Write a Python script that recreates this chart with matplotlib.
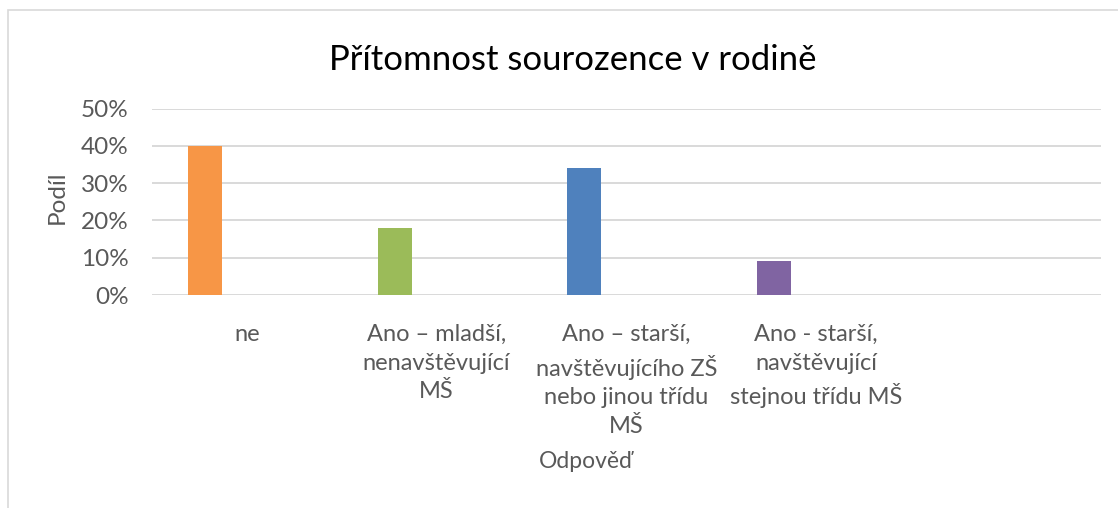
import matplotlib
matplotlib.use("Agg")
import matplotlib.pyplot as plt
from matplotlib.patches import Rectangle

categories = ["ne",
              "Ano – mladší,\nnenavštěvující\nMŠ",
              "Ano – starší,\nnavštěvujícího ZŠ\nnebo jinou třídu\nMŠ",
              "Ano - starší,\nnavštěvující\nstejnou třídu MŠ",
              ""]
values = [0.40, 0.18, 0.34, 0.09, 0.0]
colors = ["#F79646", "#9BBB59", "#4F81BD", "#8064A2", "#4BACC6"]
yticks = [0.0, 0.1, 0.2, 0.3, 0.4, 0.5]
ytick_labels = ["0%", "10%", "20%", "30%", "40%", "50%"]
title = "Přítomnost sourozence v rodině"
xlabel = "Odpověď"
ylabel = "Podíl"

plt.rcParams['font.family'] = ['Lato', 'DejaVu Sans']
W, H = 1118, 508
fig = plt.figure(figsize=(W / 100, H / 100), dpi=100)
fig.patch.set_facecolor("white")

# chart frame
fig.patches.append(Rectangle((7.5 / W, -0.5), 2.0, 1.5 - 10 / H, transform=fig.transFigure,
                             fill=False, edgecolor="#D9D9D9", linewidth=1.2))

ax = fig.add_axes([152 / W, 1 - 295 / H, (1100.7 - 152) / W, (295 - 108.7) / H])
ax.set_xlim(-0.5, len(categories) - 0.5)
ax.set_ylim(0, 0.5)

xs = [i - 0.2215 for i in range(len(categories))]
ax.bar(xs, values, width=0.179, color=colors, zorder=3)

ax.set_yticks(yticks)
ax.set_yticklabels(ytick_labels)
ax.yaxis.grid(True, color="#D9D9D9", linewidth=1.4, zorder=0)
ax.set_axisbelow(True)
for s in ax.spines.values():
    s.set_visible(False)
ax.tick_params(axis="y", length=0, pad=17, labelsize=17.5, labelcolor="#595959")
ax.set_xticks(range(len(categories)))
ax.set_xticklabels(categories, linespacing=1.45)
ax.tick_params(axis="x", length=0, pad=21, labelsize=17, labelcolor="#595959")

fig.text(572.5 / W, 1 - 60 / H, title, ha="center", va="center", fontsize=25, color="#000000")
fig.text(586 / W, 1 - 461 / H, xlabel, ha="center", va="center", fontsize=16.5, color="#595959")
fig.text(57 / W, 1 - 197 / H, ylabel, ha="center", va="center", rotation=90, fontsize=17.5, color="#595959")

fig.savefig("out.png", dpi=100)
